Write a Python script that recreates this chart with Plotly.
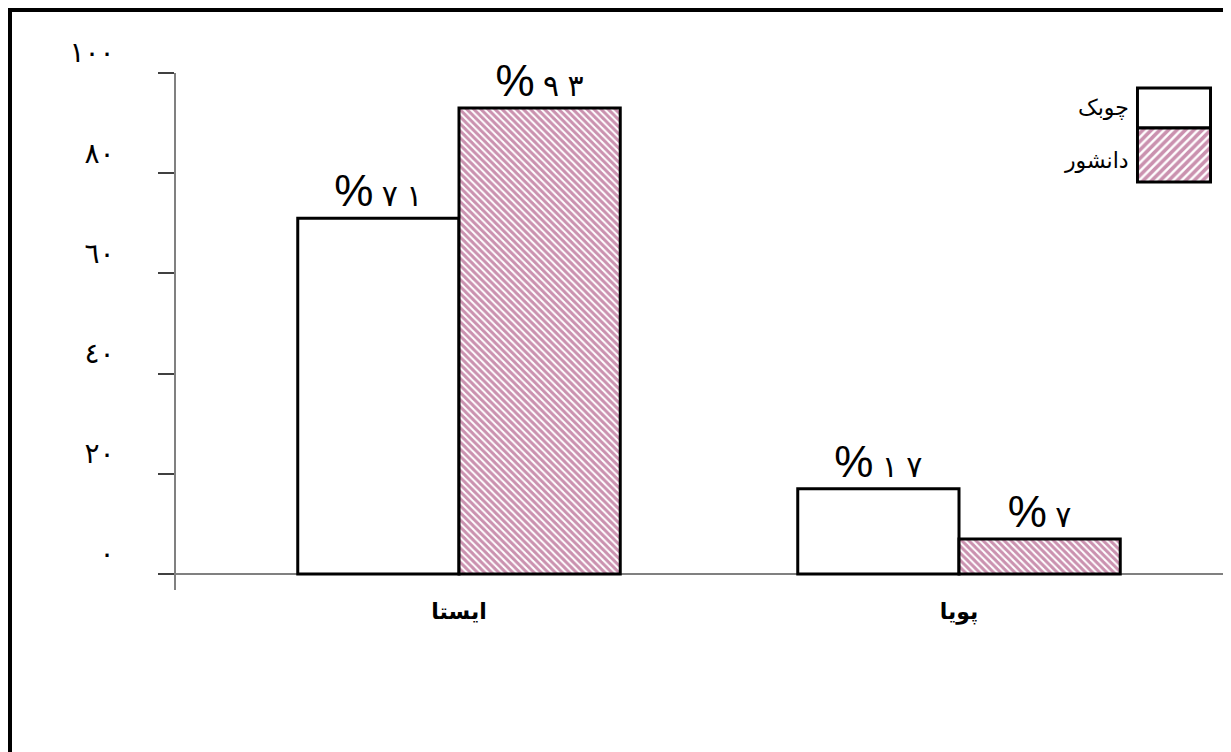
import plotly.graph_objects as go

# ---- data ----
categories = ["ایستا", "پویا"]
series_names = ["چوبک", "دانشور"]
chubak_values = [71, 17]
daneshvar_values = [93, 7]
y_tick_values = [0, 20, 40, 60, 80, 100]

AR_DIGITS = str.maketrans("0123456789", "٠١٢٣٤٥٦٧٨٩")
LRM = "\u200e"


def ar(n):
    return str(n).translate(AR_DIGITS)


def pct_label(v):
    spaced = (LRM + " " + LRM).join(ar(v))
    return ("%" + LRM + "<span style='font-size:30px'>" + " " + LRM
            + spaced + "</span>")


y_tick_text = [ar(v) for v in y_tick_values]

OFF = 8  # page body margin
W, H = 1223, 744
ML, MR, MT, MB = 168, 0, 65, 162
PW = W - ML - MR
PH = H - MT - MB


def px_x(sx):
    return (sx - OFF - ML) / PW


def px_y(sy):
    return (H - MB - (sy - OFF)) / PH


PLUM = "#96245f"
lbl_font = dict(family="Liberation Sans, DejaVu Sans", size=44, color="black")

fig = go.Figure()
fig.add_trace(go.Bar(
    x=categories, y=chubak_values, name=series_names[0],
    marker=dict(color="white", line=dict(color="black", width=3)),
    text=[pct_label(v) for v in chubak_values], textposition="outside",
    textfont=lbl_font, cliponaxis=False, showlegend=False,
))
fig.add_trace(go.Bar(
    x=categories, y=daneshvar_values, name=series_names[1],
    marker=dict(color="white", line=dict(color="black", width=3),
                pattern=dict(shape="\\", fgcolor=PLUM, bgcolor="white",
                             size=5, solidity=0.6)),
    text=[pct_label(v) for v in daneshvar_values], textposition="outside",
    textfont=lbl_font, cliponaxis=False, showlegend=False,
))

# legend swatches drawn as bars on a small inset axis
fig.add_trace(go.Bar(
    x=[0], y=[40], base=[54], width=[1], offset=-0.5,
    marker=dict(color="white", line=dict(color="black", width=3)),
    xaxis="x2", yaxis="y2", showlegend=False, hoverinfo="skip",
))
fig.add_trace(go.Bar(
    x=[0], y=[54], base=[0], width=[1], offset=-0.5,
    marker=dict(color="white", line=dict(color="black", width=3),
                pattern=dict(shape="/", fgcolor=PLUM, bgcolor="white",
                             size=6, solidity=0.6)),
    xaxis="x2", yaxis="y2", showlegend=False, hoverinfo="skip",
))

fig.update_layout(
    width=W, height=H,
    margin=dict(l=ML, r=MR, t=MT, b=MB, pad=0),
    paper_bgcolor="white", plot_bgcolor="white",
    barmode="group", bargap=0.355, bargroupgap=0,
    xaxis=dict(
        type="category", range=[-0.566, 1.544],
        showline=False, showgrid=False, zeroline=False, ticks="",
        tickfont=dict(family="DejaVu Sans", size=22, color="black", weight="bold"),
        ticklabelstandoff=6,
    ),
    yaxis=dict(
        range=[-3.19, 100], showgrid=False,
        showline=True, linecolor="#808080", linewidth=1.5,
        zeroline=True, zerolinecolor="#808080", zerolinewidth=1.5,
        ticks="outside", ticklen=16, tickcolor="#404040", tickwidth=1.5,
        tickvals=y_tick_values, ticktext=y_tick_text,
        ticklabelposition="outside top", ticklabelstandoff=54,
        tickfont=dict(family="DejaVu Sans", size=28, color="black"),
    ),
    xaxis2=dict(domain=[px_x(1136), px_x(1212)], range=[-0.52, 0.52],
                anchor="y2", visible=False, fixedrange=True),
    yaxis2=dict(domain=[px_y(184), px_y(86)], range=[-2, 96],
                anchor="x2", visible=False, fixedrange=True),
    shapes=[
        dict(type="line", xref="paper", yref="paper",
             x0=px_x(7), x1=px_x(1240), y0=px_y(9.5), y1=px_y(9.5),
             line=dict(color="black", width=5)),
        dict(type="line", xref="paper", yref="paper",
             x0=px_x(9.5), x1=px_x(9.5), y0=px_y(7), y1=px_y(760),
             line=dict(color="black", width=5)),
    ],
    annotations=[
        dict(text=series_names[0], xref="paper", yref="paper",
             x=px_x(1131), y=px_y(108), xanchor="right", yanchor="middle",
             showarrow=False,
             font=dict(family="Liberation Sans, DejaVu Sans", size=22, color="black")),
        dict(text=series_names[1], xref="paper", yref="paper",
             x=px_x(1131), y=px_y(160), xanchor="right", yanchor="middle",
             showarrow=False,
             font=dict(family="Liberation Sans, DejaVu Sans", size=22, color="black")),
    ],
)

fig.write_html("out.html")
